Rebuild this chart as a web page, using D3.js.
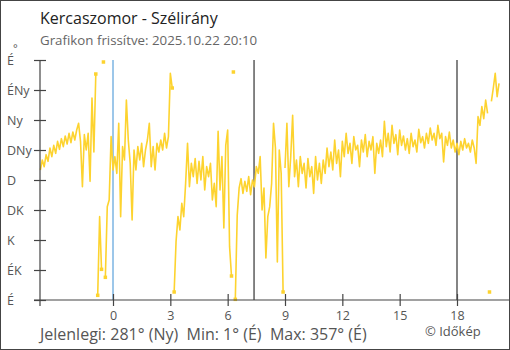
<!DOCTYPE html>
<html>
<head>
<meta charset="utf-8">
<script src="https://cdn.jsdelivr.net/npm/d3@7"></script>
<style>
  body { margin: 0; background: #fff; }
  svg { display: block; font-family: "Open Sans", "Noto Sans", sans-serif; }
</style>
</head>
<body>
<svg id="chart" width="510" height="350"></svg>
<script>
// wind direction (degrees), one reading every 0.1 h starting at -3.8 h
const startHour = -3.8;
const stepHours = 0.1;
const direction = [
  195, 210, 200, 218, 208, 228, 215, 232, 220, 238,
  226, 242, 230, 246, 234, 250, 236, 252, 240, 255,
  265, 238, 170, 248, 225, 250, 178, 303, 222, 339,
  7, 125, 46, 357, 34, 140, 150, 245, 195, 215,
  190, 265, 125, 230, 210, 300, 240, 205, 120, 225,
  195, 230, 210, 235, 200, 225, 240, 265, 200, 230,
  195, 235, 222, 240, 225, 250, 228, 245, 340, 318,
  12, 88, 125, 105, 145, 125, 175, 235, 170, 205,
  185, 212, 175, 208, 180, 215, 165, 200, 185, 205,
  150, 175, 140, 253, 165, 215, 108, 232, 255, 80,
  36, 342, 1, 127, 168, 182, 160, 178, 163, 185,
  158, 180, 170, 200, 190, 215, 135, 168, 63, 125,
  140, 175, 265, 228, 57, 225, 190, 12, 198, 265,
  170, 215, 277, 185, 210, 170, 215, 190, 205, 168,
  212, 185, 200, 160, 215, 180, 205, 175, 210, 190,
  228, 200, 222, 195, 240, 205, 225, 185, 238, 215,
  250, 220, 235, 205, 245, 225, 232, 200, 240, 222,
  248, 215, 238, 225, 245, 190, 235, 220, 240, 215,
  268, 230, 250, 222, 262, 235, 248, 218, 255, 232,
  246, 225, 242, 220, 250, 230, 240, 222, 256, 236,
  245, 228, 250, 235, 258, 240, 250, 232, 262, 242,
  250, 207, 245, 232, 252, 228, 240, 222, 235, 218,
  238, 225, 242, 228, 235, 222, 240, 228, 205, 275,
  262, 290, 272, 300, 280, 12, 298, 318, 340, 305,
  325
];

const yTicks = [0, 45, 90, 135, 180, 225, 270, 315, 360];
const yLabels = ["É", "ÉK", "K", "DK", "D", "DNy", "Ny", "ÉNy", "É"];
const xTicks = [0, 3, 6, 9, 12, 15, 18];
const dayLines = [0];
const sunLines = [7.38, 18];

const title = "Kercaszomor - Szélirány";
const subtitle = "Grafikon frissítve: 2025.10.22 20:10";
const footer = "Jelenlegi: 281° (Ny)  Min: 1° (É)  Max: 357° (É)";
const credit = "© Időkép";

const svg = d3.select("#chart");
const plot = { left: 40, right: 509, top: 60, bottom: 300 };
const yellow = "#fdd32f";

const x = d3.scaleLinear().domain([0, 18]).range([113, 457]);
const y = d3.scaleLinear().domain([0, 360]).range([plot.bottom, plot.top]);

// frame
svg.append("rect")
  .attr("x", 0.5).attr("y", 0.5)
  .attr("width", 509).attr("height", 349)
  .attr("fill", "#fff")
  .attr("stroke", "#444");

svg.append("text")
  .attr("x", 40).attr("y", 24)
  .attr("font-size", 16)
  .attr("fill", "#222")
  .text(title);

svg.append("text")
  .attr("x", 40).attr("y", 45)
  .attr("font-size", 13.3)
  .attr("fill", "#666")
  .text(subtitle);

// vertical markers: midnight (blue), sunrise / sunset (dark)
svg.selectAll(".day-line")
  .data(dayLines)
  .enter()
  .append("line")
  .attr("class", "day-line")
  .attr("x1", d => x(d)).attr("x2", d => x(d))
  .attr("y1", plot.top).attr("y2", plot.bottom)
  .attr("stroke", "#3b8fd4")
  .attr("stroke-width", 1);

svg.selectAll(".sun-line")
  .data(sunLines)
  .enter()
  .append("line")
  .attr("class", "sun-line")
  .attr("x1", d => x(d)).attr("x2", d => x(d))
  .attr("y1", plot.top).attr("y2", plot.bottom)
  .attr("stroke", "#333")
  .attr("stroke-width", 1.2);

// data: split the line where the direction wraps around north
const points = direction.map((v, i) => ({ t: startHour + i * stepHours, v: v }));
const segments = [];
points.forEach((p, i) => {
  if (i === 0 || Math.abs(p.v - points[i - 1].v) > 180) segments.push([]);
  segments[segments.length - 1].push(p);
});

// the ends touching a wrap get a small marker
const nearNorth = v => v < 60 || v > 300;
const markers = [];
segments.forEach((s, k) => {
  const first = s[0], last = s[s.length - 1];
  if (k > 0 && nearNorth(first.v)) markers.push(first);
  if (k < segments.length - 1 && last !== first && nearNorth(last.v)) markers.push(last);
});

const line = d3.line().x(d => x(d.t)).y(d => y(d.v));

svg.append("g")
  .selectAll("path")
  .data(segments)
  .enter()
  .append("path")
  .attr("d", line)
  .attr("fill", "none")
  .attr("stroke", yellow)
  .attr("stroke-width", 1.6)
  .attr("stroke-linejoin", "round");

svg.append("g")
  .selectAll("rect")
  .data(markers)
  .enter()
  .append("rect")
  .attr("x", d => x(d.t) - 1.75)
  .attr("y", d => y(d.v) - 1.75)
  .attr("width", 3.5)
  .attr("height", 3.5)
  .attr("fill", yellow);

// y axis
const yAxis = svg.append("g")
  .attr("transform", `translate(${plot.left},0)`)
  .call(d3.axisLeft(y).tickValues(yTicks).tickFormat((d, i) => yLabels[i]));

yAxis.select(".domain").remove();
yAxis.selectAll(".tick line")
  .attr("x1", -6).attr("x2", 6)
  .attr("stroke", "#444").attr("stroke-width", 1.2);
yAxis.selectAll(".tick text")
  .attr("x", 7 - plot.left)
  .attr("text-anchor", "start")
  .attr("font-family", "\"Open Sans\", sans-serif")
  .attr("font-size", 12.5)
  .attr("fill", "#555");

svg.append("line")
  .attr("x1", plot.left).attr("x2", plot.left)
  .attr("y1", plot.top).attr("y2", plot.bottom + 6)
  .attr("stroke", "#444").attr("stroke-width", 1.2);

svg.append("text")
  .attr("x", 13).attr("y", 52)
  .attr("font-size", 11)
  .attr("fill", "#555")
  .text("°");

// x axis
const xAxis = svg.append("g")
  .attr("transform", `translate(0,${plot.bottom})`)
  .call(d3.axisBottom(x).tickValues(xTicks).tickFormat(d3.format("d")));

xAxis.select(".domain").remove();
xAxis.selectAll(".tick line")
  .attr("y1", -6).attr("y2", 6)
  .attr("stroke", "#444").attr("stroke-width", 1.2);
xAxis.selectAll(".tick text")
  .attr("y", 19.5).attr("dy", 0)
  .attr("font-family", "\"Open Sans\", sans-serif")
  .attr("font-size", 12.5)
  .attr("fill", "#555");

svg.append("line")
  .attr("x1", plot.left - 6).attr("x2", plot.right)
  .attr("y1", plot.bottom).attr("y2", plot.bottom)
  .attr("stroke", "#444").attr("stroke-width", 1.2);

svg.append("text")
  .attr("x", 40).attr("y", 340)
  .attr("font-size", 16)
  .attr("fill", "#555")
  .attr("xml:space", "preserve")
  .style("white-space", "pre")
  .text(footer);

svg.append("text")
  .attr("x", 425).attr("y", 336)
  .attr("font-size", 13)
  .attr("fill", "#555")
  .text(credit);
</script>
</body>
</html>
